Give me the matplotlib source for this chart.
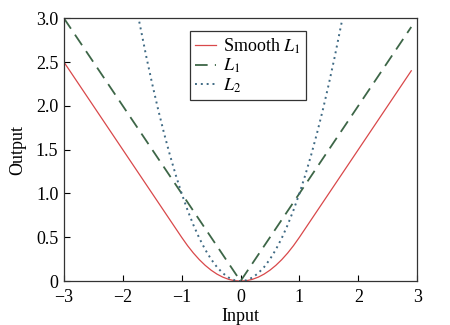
import matplotlib
matplotlib.use("Agg")
import matplotlib.pyplot as plt

plt.rcParams['font.family'] = ['Liberation Serif', 'DejaVu Serif']
plt.rcParams['mathtext.fontset'] = 'stix'

# Smooth L1 (red solid)
x_smooth = [-3.0, -2.5, -2.0, -1.5, -1.0, -0.9, -0.8, -0.7, -0.6, -0.5, -0.4, -0.3,
            -0.2, -0.1, 0.0, 0.1, 0.2, 0.3, 0.4, 0.5, 0.6, 0.7, 0.8, 0.9, 1.0,
            1.5, 2.0, 2.5, 2.9]
y_smooth = [2.5, 2.0, 1.5, 1.0, 0.5, 0.405, 0.32, 0.245, 0.18, 0.125, 0.08, 0.045,
            0.02, 0.005, 0.0, 0.005, 0.02, 0.045, 0.08, 0.125, 0.18, 0.245, 0.32, 0.405, 0.5,
            1.0, 1.5, 2.0, 2.4]

# L1 (green dashed)
x_l1 = [-3.0, 0.0, 2.9]
y_l1 = [3.0, 0.0, 2.9]

# L2 (blue dotted)
x_l2 = [-1.72, -1.6, -1.5, -1.4, -1.3, -1.2, -1.1, -1.0, -0.9, -0.8, -0.7, -0.6, -0.5,
        -0.4, -0.3, -0.2, -0.1, 0.0, 0.1, 0.2, 0.3, 0.4, 0.5, 0.6, 0.7, 0.8, 0.9,
        1.0, 1.1, 1.2, 1.3, 1.4, 1.5, 1.6, 1.72]
y_l2 = [2.96, 2.56, 2.25, 1.96, 1.69, 1.44, 1.21, 1.0, 0.81, 0.64, 0.49, 0.36, 0.25,
        0.16, 0.09, 0.04, 0.01, 0.0, 0.01, 0.04, 0.09, 0.16, 0.25, 0.36, 0.49, 0.64, 0.81,
        1.0, 1.21, 1.44, 1.69, 1.96, 2.25, 2.56, 2.96]

fig = plt.figure(figsize=(4.5, 3.25), dpi=100)
ax = fig.add_axes([0.142, 0.135, 0.785, 0.809])

ax.plot(x_smooth, y_smooth, color="#d9484a", lw=0.9, label=r"Smooth $L_1$")
ax.plot(x_l1, y_l1, color="#3d6647", lw=1.3, dashes=(7, 4), label=r"$L_1$")
ax.plot(x_l2, y_l2, color="#3f6a84", lw=1.4, linestyle=(0, (1, 2)), label=r"$L_2$")

ax.set_xlim(-3, 3)
ax.set_ylim(0, 3)
ax.set_xticks([-3, -2, -1, 0, 1, 2, 3])
ax.set_xticklabels(["\u22123", "\u22122", "\u22121", "0", "1", "2", "3"])
ax.set_yticks([0, 0.5, 1.0, 1.5, 2.0, 2.5, 3.0])
ax.set_yticklabels(["0", "0.5", "1.0", "1.5", "2.0", "2.5", "3.0"])
ax.tick_params(direction="in", length=4, width=0.8, labelsize=13,
               top=False, right=False)
ax.tick_params(axis="x", pad=6)
ax.tick_params(axis="y", pad=4)
for s in ax.spines.values():
    s.set_linewidth(0.9)
    s.set_color("#333333")

ax.set_xlabel("Input", fontsize=13, labelpad=1)
ax.set_ylabel("Output", fontsize=13, labelpad=7)

leg = ax.legend(loc="upper left", bbox_to_anchor=(0.357, 0.95), borderaxespad=0,
                fontsize=13, handlelength=1.15, handletextpad=0.4, labelspacing=0.05,
                borderpad=0.3, fancybox=False, framealpha=1)
leg.get_frame().set_edgecolor("#333333")
leg.get_frame().set_linewidth(0.9)

plt.savefig("out.png", dpi=100)
